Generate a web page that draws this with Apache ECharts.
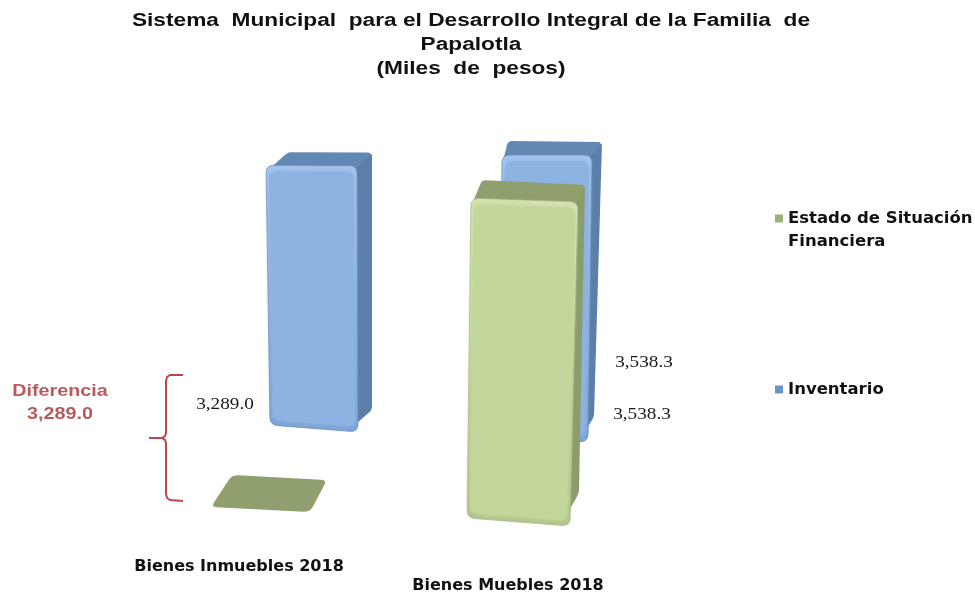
<!DOCTYPE html>
<html><head><meta charset="utf-8">
<style>html,body{margin:0;padding:0;background:#fff}#c{width:975px;height:592px}</style>
<script src="https://cdn.jsdelivr.net/npm/echarts@6/dist/echarts.min.js"></script>
</head><body><div id="c"></div>
<script>
const categories = ['Bienes Inmuebles 2018', 'Bienes Muebles 2018'];
const estadoSituacion = [0, 3538.3];
const inventario = [3289.0, 3538.3];
const titleLines = ['Sistema  Municipal  para el Desarrollo Integral de la Familia  de', 'Papalotla', '(Miles  de  pesos)'];

// Perspective of the original 3-D picture, per series and category (pixel offsets from band centre/baseline).
const viewEstado = [
  {bl:[-28,-19], br:[71,-14], sl:.9, sr:.9, lean:[4,8], dTL:[21,-32], dTR:[17,-32], dBR:[17,-32]},
  {bl:[-41,-8], br:[62,0], sl:.904, sr:.916, lean:[4,8], dTL:[11,-18], dTR:[7,-17], dBR:[9,-33], label:[134,-111]}
];
const viewInventario = [
  {bl:[31,-101], br:[119,-94], sl:.79, sr:.81, lean:[-4,-1], dTL:[22,-13], dTR:[15,-13], dBR:[14,-22], label:[-14,-121]},
  {bl:[-8,-89], br:[80,-84], sl:.797, sr:.811, lean:[2,4], dTL:[6,-14], dTR:[10,-13], dBR:[6,-25], label:[136,-163]}
];
const skinEstado = {front:'#C3D69B', bevelTop:'#D3E2AE', bevelBottom:'#B2C68A', edge:'#A3B582', top:'#8F9F6E', side:'#8C9C6C', legend:'#9BAF78'};
const skinInventario = {front:'#8DB3E2', bevelTop:'#A3C4EC', bevelBottom:'#7DA4D7', edge:'#5F85B5', top:'#6488B4', side:'#5B7FA9', legend:'#6E95C6'};

const fmt = v => v.toLocaleString('en-US', {minimumFractionDigits:1, maximumFractionDigits:1});

function rounded(pts, r) {
  const out = [], n = pts.length;
  for (let i = 0; i < n; i++) {
    const p = pts[i], a = pts[(i + n - 1) % n], b = pts[(i + 1) % n];
    const la = Math.hypot(a[0]-p[0], a[1]-p[1]) || 1, lb = Math.hypot(b[0]-p[0], b[1]-p[1]) || 1;
    const ra = Math.min(r, la/2), rb = Math.min(r, lb/2);
    const s = [p[0]+(a[0]-p[0])*ra/la, p[1]+(a[1]-p[1])*ra/la];
    const e = [p[0]+(b[0]-p[0])*rb/lb, p[1]+(b[1]-p[1])*rb/lb];
    for (let t = 0; t <= 1.001; t += .2) {
      const u = 1 - t;
      out.push([u*u*s[0]+2*u*t*p[0]+t*t*e[0], u*u*s[1]+2*u*t*p[1]+t*t*e[1]]);
    }
  }
  return out;
}
const add = (p, d) => [p[0]+d[0], p[1]+d[1]];

function makeRender(views, skin) {
  return function (params, api) {
    const i = api.value(0), v = api.value(1);
    const base = api.coord([i, 0]);
    const h = Math.abs(base[1] - api.coord([i, v])[1]);
    const g = views[i];
    const BL = add(base, g.bl), BR = add(base, g.br);
    const TL = [BL[0] + (v ? g.lean[0] : 0), BL[1] - h*g.sl];
    const TR = [BR[0] + (v ? g.lean[1] : 0), BR[1] - h*g.sr];
    const kids = [];
    const poly = (points, style, z2) => ({type:'polygon', z2, shape:{points}, style});
    if (v) {
      kids.push(poly(rounded([add(TR,[-8,3]), add(TR,g.dTR), add(BR,g.dBR), add(BR,[-8,-3])], 4), {fill:skin.side}, 1));
    }
    kids.push(poly(rounded(v ? [add(TL,[1,6]), add(TL,g.dTL), add(TR,g.dTR), add(TR,[-4,6])] : [TL, add(TL,g.dTL), add(TR,g.dTR), TR], v ? 4 : 6), {fill:skin.top}, 2));
    if (v) {
      kids.push(poly(rounded([TL,TR,BR,BL], 8), {
        fill:{type:'linear', x:0, y:0, x2:0, y2:1,
          colorStops:[{offset:0,color:skin.bevelTop},{offset:.05,color:skin.bevelTop},{offset:.95,color:skin.bevelBottom},{offset:1,color:skin.bevelBottom}]},
        stroke:skin.edge, lineWidth:.7
      }, 3));
      kids.push(poly(rounded([add(TL,[3,6]),add(TR,[-3,6]),add(BR,[-3,-5]),add(BL,[3,-5])], 8),
        {fill:skin.front, shadowBlur:5, shadowColor:skin.front}, 4));
      kids.push({type:'text', z2:5, x: base[0]+g.label[0], y: base[1]+g.label[1], scaleX:1.13, style:{
        text: fmt(v), x:0, y:0,
        font:'17px "Liberation Serif", serif', fill:'#1a1a1a', align:'center', verticalAlign:'middle'
      }});
    }
    return {type:'group', children:kids};
  };
}
const seriesData = vals => categories.map((c, i) => [i, vals[i]]);
const difference = fmt(inventario[0] - estadoSituacion[0]);
const brace = [[183,375],[170,375],[167,377],[166,381],[166,433],[165,436],[162,438],[149,438],[162,438],[165,440],[166,443],[166,494],[167,498],[170,500],[183,501]];

const chart = echarts.init(document.getElementById('c'), null, {renderer:'canvas'});
chart.setOption({
  animation:false,
  backgroundColor:'#fff',
  legend:{
    orient:'vertical', left:775, top:184, padding:0, itemGap:125, itemWidth:8, itemHeight:8, icon:'rect',
    data:['Estado de Situación\nFinanciera','Inventario'],
    formatter:n => n.indexOf('\n') > 0 ? '\n' + n : n,
    textStyle:{fontFamily:'"DejaVu Sans",sans-serif', fontWeight:'bold', fontSize:16.5, lineHeight:23, color:'#111'}
  },
  grid:{left:104.5, width:538, top:126, height:400, outerBoundsMode:'none'},
  xAxis:{
    type:'category', data:categories,
    axisLine:{show:false}, axisTick:{show:false}, splitLine:{show:false},
    axisLabel:{
      margin:31, interval:0, fontFamily:'"DejaVu Sans",sans-serif', fontWeight:'bold', fontSize:16, lineHeight:19, color:'#111',
      formatter:(v, i) => i === 1 ? '\n' + v : v
    }
  },
  yAxis:{type:'value', min:0, max:4000, show:false},
  series:[
    {name:'Inventario', type:'custom', z:2, itemStyle:{color:skinInventario.legend}, data:seriesData(inventario), encode:{x:0,y:1}, renderItem:makeRender(viewInventario, skinInventario), clip:false},
    {name:'Estado de Situación\nFinanciera', type:'custom', z:3, itemStyle:{color:skinEstado.legend}, data:seriesData(estadoSituacion), encode:{x:0,y:1}, renderItem:makeRender(viewEstado, skinEstado), clip:false}
  ],
  graphic:[
    {type:'text', x:471, y:45, scaleX:1.26, style:{text:titleLines.join('\n'), x:0, y:0, align:'center', verticalAlign:'middle', font:'bold 18px "Liberation Sans",Arial,sans-serif', lineHeight:24, fill:'#111'}},
    {type:'polyline', shape:{points:brace}, style:{stroke:'#B5494E', lineWidth:2, fill:null}},
    {type:'text', x:60, y:403, scaleX:1.16, style:{text:'Diferencia\n' + difference, x:0, y:0, align:'center', verticalAlign:'middle', font:'bold 17px "Liberation Sans",Arial,sans-serif', lineHeight:23, fill:'#B85A5C'}}
  ]
});
</script></body></html>
